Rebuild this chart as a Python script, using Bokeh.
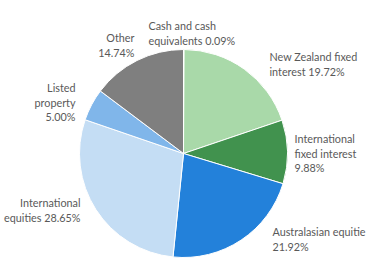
import numpy as np
from bokeh.plotting import figure
from bokeh.models import ColumnDataSource, Range1d
from bokeh.core.properties import value
from bokeh.embed import file_html
from bokeh.resources import INLINE

categories = ["Cash and cash equivalents", "New Zealand fixed interest", "International fixed interest",
              "Australasian equities", "International equities", "Listed property", "Other"]
values = [0.09, 19.72, 9.88, 21.92, 28.65, 5.00, 14.74]
colors = ["#A9D9A9", "#A9D9A9", "#41924E", "#2381DA", "#C4DDF4", "#80B6EA", "#7F7F7F"]

# label text lines (as printed in the chart)
label_lines = [
    ["Cash and cash", "equivalents 0.09%"],
    ["New Zealand fixed", "interest 19.72%"],
    ["International", "fixed interest", "9.88%"],
    ["Australasian equitie", "21.92%"],
    ["International", "equities 28.65%"],
    ["Listed", "property", "5.00%"],
    ["Other", "14.74%"],
]

W, H = 381, 277
cx, cy, r = 183, H - 153, 104
# label anchor (x, y of first line in pixel coords from top), alignment
label_pos = [(148, 25, "left"), (269, 56, "left"), (294, 138, "left"), (272, 231, "left"),
             (80, 202, "right"), (75, 87, "right"), (134, 37, "right")]

vals = np.array(values)
frac = vals / vals.sum()
cum = np.concatenate([[0], np.cumsum(frac)])
start = np.pi / 2 - 2 * np.pi * cum[:-1]
end = np.pi / 2 - 2 * np.pi * cum[1:]

src = ColumnDataSource(dict(start=start, end=end, color=colors, cat=categories))

p = figure(width=W, height=H, output_backend="svg", toolbar_location=None,
           x_range=Range1d(0, W), y_range=Range1d(0, H), min_border=0)
p.axis.visible = False
p.grid.visible = False
p.outline_line_color = None
p.background_fill_color = "white"

p.wedge(x=cx, y=cy, radius=r, start_angle="start", end_angle="end", direction="clock",
        fill_color="color", line_color="white", line_width=1, source=src)

tx, ty, tt, ta = [], [], [], []
lh = 14.5
for lines, (x0, y0, al) in zip(label_lines, label_pos):
    for i, s in enumerate(lines):
        tx.append(x0)
        ty.append(H - (y0 + i * lh))
        tt.append(s)
        ta.append(al)
tsrc = ColumnDataSource(dict(x=tx, y=ty, text=tt, align=ta))
p.text(x="x", y="y", text="text", text_align="align", text_baseline="middle",
       text_font=value("Lato"), text_font_size="10.8px", text_color="#595959", source=tsrc)

open("out.html", "w").write(file_html(p, INLINE))
